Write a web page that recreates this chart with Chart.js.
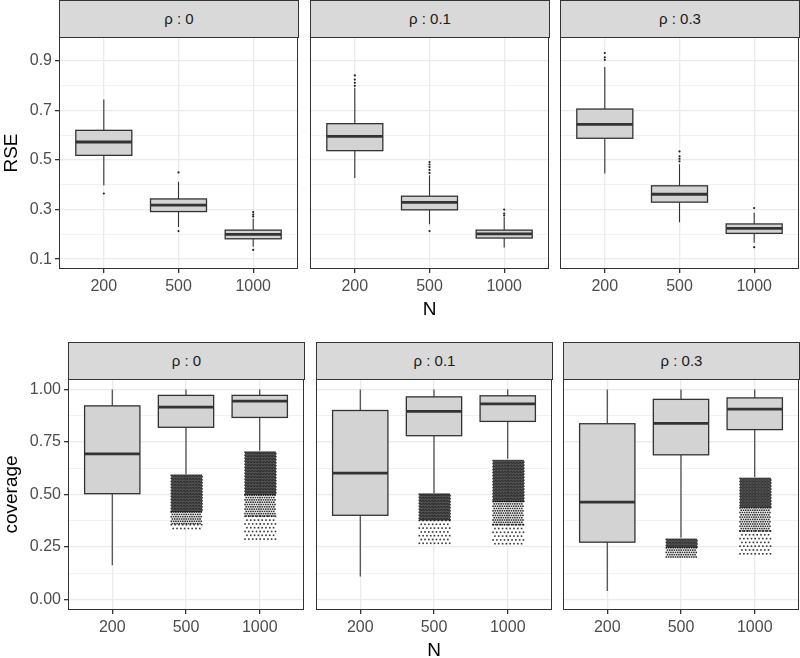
<!DOCTYPE html>
<html>
<head>
<meta charset="utf-8">
<script src="https://cdn.jsdelivr.net/npm/chart.js@4.4.1/dist/chart.umd.min.js"></script>
<style>
  body { margin: 0; background: #fff; }
  #wrap { position: relative; width: 800px; height: 658px; overflow: hidden; font-family: "Liberation Sans", Arial, sans-serif; }
  #wrap canvas { position: absolute; }
  .strip { position: absolute; box-sizing: border-box; background: #d9d9d9; border: 1px solid #333;
           text-align: center; color: #1a1a1a; font-size: 15px; }
</style>
</head>
<body>
<div id="wrap"></div>
<script>
// categories + facet labels
const sizes = ['200', '500', '1000'];
const rhoLabels = ['ρ : 0', 'ρ : 0.1', 'ρ : 0.3'];

// y axis breaks
const rseTicks = [0.1, 0.3, 0.5, 0.7, 0.9];
const rseMinor = [0.2, 0.4, 0.6, 0.8];
const covTicks = [0, 0.25, 0.5, 0.75, 1];
const covMinor = [0.125, 0.375, 0.625, 0.875];

// RSE boxes per N: [lower whisker, Q1, median, Q3, upper whisker]
const rseBox0  = [[0.398, 0.519, 0.573, 0.620, 0.745], [0.230, 0.292, 0.318, 0.343, 0.412], [0.150, 0.182, 0.200, 0.217, 0.264]];
const rseBox01 = [[0.428, 0.538, 0.596, 0.647, 0.792], [0.241, 0.299, 0.329, 0.354, 0.439], [0.147, 0.185, 0.202, 0.217, 0.270]];
const rseBox03 = [[0.446, 0.588, 0.644, 0.706, 0.876], [0.249, 0.330, 0.362, 0.396, 0.483], [0.166, 0.204, 0.224, 0.242, 0.287]];

// RSE outliers: [N index, value]
const rseOut0  = [[1, 0.365], [2, 0.450], [2, 0.213], [3, 0.272], [3, 0.280], [3, 0.290], [3, 0.137]];
const rseOut01 = [[1, 0.800], [1, 0.812], [1, 0.825], [1, 0.842], [2, 0.448], [2, 0.460], [2, 0.472], [2, 0.482], [2, 0.492], [2, 0.213], [3, 0.276], [3, 0.284], [3, 0.300]];
const rseOut03 = [[1, 0.905], [1, 0.915], [1, 0.932], [2, 0.495], [2, 0.505], [2, 0.515], [2, 0.535], [3, 0.306], [3, 0.148]];

// coverage boxes per N
const covBox0  = [[0.163, 0.504, 0.693, 0.922, 1.0], [0.597, 0.820, 0.916, 0.972, 1.0], [0.709, 0.867, 0.945, 0.972, 1.0]];
const covBox01 = [[0.110, 0.401, 0.602, 0.900, 1.0], [0.507, 0.780, 0.896, 0.965, 1.0], [0.670, 0.848, 0.932, 0.970, 1.0]];
const covBox03 = [[0.041, 0.273, 0.464, 0.837, 1.0], [0.294, 0.689, 0.839, 0.953, 1.0], [0.583, 0.809, 0.907, 0.960, 1.0]];

// coverage outlier clouds (jittered): [N index, top, bottom, density]
const covCloud0  = [[2, 0.595, 0.420, 'dense'], [2, 0.420, 0.360, 'mid'], [2, 0.360, 0.325, 'sparse'],
                    [3, 0.705, 0.500, 'dense'], [3, 0.500, 0.400, 'mid'], [3, 0.400, 0.275, 'sparse']];
const covCloud01 = [[2, 0.505, 0.380, 'dense'], [2, 0.380, 0.265, 'sparse'],
                    [3, 0.665, 0.470, 'dense'], [3, 0.470, 0.360, 'mid'], [3, 0.360, 0.255, 'sparse']];
const covCloud03 = [[2, 0.290, 0.250, 'dense'], [2, 0.250, 0.205, 'mid'],
                    [3, 0.580, 0.440, 'dense'], [3, 0.440, 0.330, 'mid'], [3, 0.330, 0.205, 'sparse']];

const wrap = document.getElementById('wrap');
const densityStep = { dense: 1.5, mid: 2.3, sparse: 3.8 };
const tickFont = { family: '"Liberation Sans", Arial, sans-serif', size: 16 };
const titleFont = { family: '"Liberation Sans", Arial, sans-serif', size: 19 };

// boxes, whiskers, jitter clouds and the panel frame, all placed through the scales
function ggPanel(boxes, clouds) {
    return {
        id: 'ggPanel',
        afterDatasetsDraw(chart) {
            const { ctx, chartArea: a, scales: { x, y } } = chart;
            ctx.save();
            ctx.beginPath();
            ctx.rect(a.left, a.top, a.width, a.height);
            ctx.clip();

            ctx.fillStyle = 'rgba(0,0,0,0.8)';
            clouds.forEach(([n, hi, lo, d]) => {
                const step = densityStep[d];
                const x0 = x.getPixelForValue(n - 0.21), x1 = x.getPixelForValue(n + 0.21);
                const y0 = y.getPixelForValue(hi), y1 = y.getPixelForValue(lo);
                let row = 0;
                for (let yy = y0; yy < y1; yy += step, row++) {
                    for (let xx = x0 + (row % 2) * step / 2; xx < x1; xx += step) ctx.fillRect(xx, yy, 1.6, 1.6);
                }
            });

            boxes.forEach((b, i) => {
                const cx = x.getPixelForValue(i + 1);
                const hw = x.getPixelForValue(i + 1.375) - cx;
                const [lo, q1, med, q3, hi] = b.map(v => y.getPixelForValue(v));
                ctx.strokeStyle = '#333';
                ctx.lineWidth = 1.1;
                ctx.beginPath();
                ctx.moveTo(cx, hi); ctx.lineTo(cx, q3);
                ctx.moveTo(cx, q1); ctx.lineTo(cx, lo);
                ctx.stroke();
                ctx.fillStyle = '#d3d3d3';
                ctx.fillRect(cx - hw, q3, 2 * hw, q1 - q3);
                ctx.lineWidth = 1.3;
                ctx.strokeRect(cx - hw, q3, 2 * hw, q1 - q3);
                ctx.lineWidth = 2.8;
                ctx.beginPath();
                ctx.moveTo(cx - hw, med); ctx.lineTo(cx + hw, med);
                ctx.stroke();
            });
            ctx.restore();

            ctx.save();
            ctx.strokeStyle = '#333';
            ctx.lineWidth = 1;
            ctx.strokeRect(a.left + 0.5, a.top + 0.5, a.width - 1, a.height - 1);
            ctx.restore();
        }
    };
}

// no label-overflow padding: chart area must fill the panel exactly
function noPad(s) {
    s.paddingTop = 0; s.paddingBottom = 0; s.paddingLeft = 0; s.paddingRight = 0;
}

function makePanel(o) {
    const cv = document.createElement('canvas');
    const w = o.yW + o.px1 - o.px0 + 1, h = o.py1 - o.py0 + o.xH;
    cv.width = w; cv.height = h;
    cv.style.width = w + 'px'; cv.style.height = h + 'px';
    cv.style.left = (o.px0 - o.yW) + 'px';
    cv.style.top = o.py0 + 'px';
    wrap.appendChild(cv);

    const strip = document.createElement('div');
    strip.className = 'strip';
    strip.textContent = o.label;
    Object.assign(strip.style, {
        left: o.px0 + 'px', top: (o.py0 - 37) + 'px', width: (o.px1 - o.px0 + 1) + 'px',
        height: '38px', lineHeight: '36px'
    });
    wrap.appendChild(strip);

    const allTicks = o.major.concat(o.minor).sort((a, b) => a - b);
    const isMajor = v => o.major.some(m => Math.abs(m - v) < 1e-9);

    new Chart(cv, {
        type: 'scatter',
        data: {
            datasets: [{
                data: o.outliers.map(([n, v]) => ({ x: n, y: v })),
                pointRadius: 1.1,
                pointBackgroundColor: 'rgba(0,0,0,0.85)',
                pointBorderWidth: 0
            }]
        },
        options: {
            responsive: false,
            animation: false,
            devicePixelRatio: 1,
            layout: { autoPadding: false, padding: { right: 1 } },
            plugins: { legend: { display: false }, tooltip: { enabled: false } },
            scales: {
                x: {
                    type: 'linear', min: 0.4, max: 3.6,
                    afterBuildTicks: s => { s.ticks = sizes.map((_, i) => ({ value: i + 1 })); },
                    ticks: {
                        callback: v => sizes[v - 1], color: '#4d4d4d', font: tickFont,
                        padding: 4, autoSkip: false, maxRotation: 0
                    },
                    grid: { color: '#ebebeb', lineWidth: 1.3, tickLength: 4, tickColor: '#333' },
                    border: { display: false },
                    title: {
                        display: o.showX, text: 'N', color: '#000', font: titleFont,
                        padding: 0
                    },
                    afterFit: s => { s.height = o.xH; noPad(s); }
                },
                y: {
                    type: 'linear', min: o.yMin, max: o.yMax,
                    afterBuildTicks: s => { s.ticks = allTicks.map(v => ({ value: v })); },
                    ticks: {
                        display: o.showY,
                        callback: v => isMajor(v) ? v.toFixed(o.digits) : '',
                        color: '#4d4d4d', font: tickFont, padding: 3, autoSkip: false
                    },
                    grid: {
                        color: '#ebebeb',
                        lineWidth: c => isMajor(c.tick.value) ? 1.3 : 0.7,
                        drawTicks: o.showY,
                        tickLength: 4,
                        tickColor: c => isMajor(c.tick.value) ? '#333' : 'rgba(0,0,0,0)'
                    },
                    border: { display: false },
                    title: {
                        display: o.showY, text: o.yTitle, color: '#000', font: titleFont,
                        padding: 0
                    },
                    afterFit: s => { s.width = o.yW; noPad(s); }
                }
            }
        },
        plugins: [ggPanel(o.boxes, o.clouds)]
    });
}

// top row: RSE
const topCols = [[59, 298], [310, 549], [560, 799]];
const rseBoxes = [rseBox0, rseBox01, rseBox03];
const rseOuts = [rseOut0, rseOut01, rseOut03];
topCols.forEach(([px0, px1], i) => makePanel({
    px0, px1, py0: 37, py1: 269, xH: 52, yW: i === 0 ? 59 : 2,
    label: rhoLabels[i], showY: i === 0, showX: i === 1, yTitle: 'RSE',
    yMin: 0.06, yMax: 0.997, major: rseTicks, minor: rseMinor, digits: 1,
    boxes: rseBoxes[i], outliers: rseOuts[i], clouds: []
}));

// bottom row: coverage
const botCols = [[68, 304], [316, 552], [563, 799]];
const covBoxes = [covBox0, covBox01, covBox03];
const covClouds = [covCloud0, covCloud01, covCloud03];
botCols.forEach(([px0, px1], i) => makePanel({
    px0, px1, py0: 379, py1: 610, xH: 52, yW: i === 0 ? 68 : 2,
    label: rhoLabels[i], showY: i === 0, showX: i === 1, yTitle: 'coverage',
    yMin: -0.05, yMax: 1.05, major: covTicks, minor: covMinor, digits: 2,
    boxes: covBoxes[i], outliers: [], clouds: covClouds[i]
}));
</script>
</body>
</html>
